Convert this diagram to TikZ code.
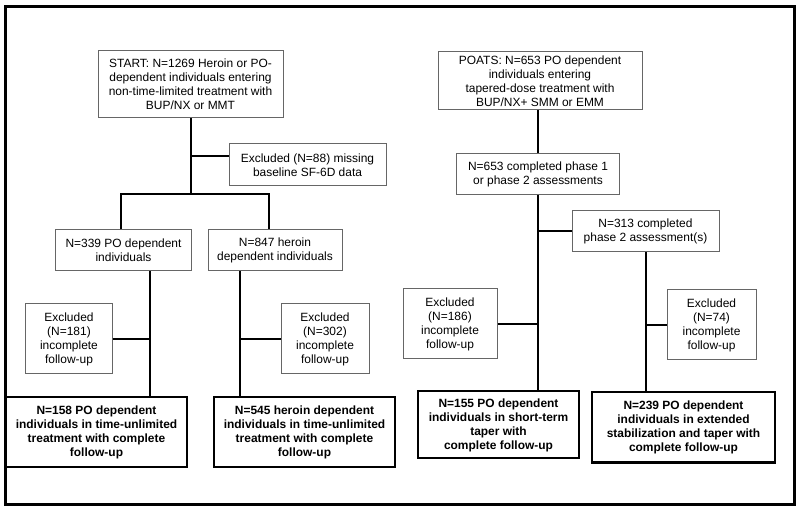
\documentclass[tikz,border=0pt]{standalone}
\usepackage{fontspec}
\setmainfont{Liberation Sans}
\usetikzlibrary{positioning}

\begin{document}
\begin{tikzpicture}[
    x=1bp, y=1bp,
    font=\fontsize{12}{14}\selectfont,
    box/.style={rectangle, draw=black!60, line width=1bp, align=center, inner sep=2bp},
    result/.style={rectangle, draw=black, line width=2bp, align=center, inner sep=2bp, font=\fontsize{12}{14}\selectfont\bfseries},
    line/.style={line width=2bp}
]
\useasboundingbox (0,0) rectangle (800,512);
\draw[line width=3bp] (5.5,505.5) rectangle (794,7);

% ============ BRAS START ============
\node[box, minimum width=185bp, minimum height=67bp] (start) at (190.5,427.5) {START: N=1269 Heroin or PO-\\dependent individuals entering\\non-time-limited treatment with\\BUP/NX or MMT};
\node[box, minimum width=157bp, minimum height=42bp, below=25bp of start, xshift=117bp] (excl88) {Excluded (N=88) missing\\baseline SF-6D data};

\node[box, minimum width=135bp, minimum height=41bp, below=111bp of start, xshift=-67bp] (po339) {N=339 PO dependent\\individuals};
\node[box, minimum width=134bp, minimum height=41bp, right=16bp of po339] (her847) {N=847 heroin\\dependent individuals};

\node[box, minimum width=86bp, minimum height=70bp, below=32bp of po339, xshift=-54.5bp] (excl181) {Excluded\\(N=181)\\incomplete\\follow-up};
\node[box, minimum width=88bp, minimum height=70bp, below=32bp of her847, xshift=50bp] (excl302) {Excluded\\(N=302)\\incomplete\\follow-up};

\node[result, minimum width=181bp, minimum height=69bp, below=125bp of po339, xshift=-27bp] (res158) {N=158 PO dependent\\individuals in time-unlimited\\treatment with complete\\follow-up};
\node[result, minimum width=181bp, minimum height=69bp, right=25bp of res158] (res545) {N=545 heroin dependent\\individuals in time-unlimited\\treatment with complete\\follow-up};

% ============ BRAS POATS ============
\node[box, minimum width=204bp, minimum height=58bp] (poats) at (540,431) {POATS: N=653 PO dependent\\individuals entering\\tapered-dose treatment with\\BUP/NX+ SMM or EMM};
\node[box, minimum width=163bp, minimum height=41bp, below=43bp of poats, xshift=-2bp] (comp653) {N=653 completed phase 1\\or phase 2 assessments};
\node[box, minimum width=147bp, minimum height=41bp, below=15bp of comp653, xshift=107.5bp] (comp313) {N=313 completed\\phase 2 assessment(s)};

\node[box, minimum width=94bp, minimum height=70bp, below=93bp of comp653, xshift=-88bp] (excl186) {Excluded\\(N=186)\\incomplete\\follow-up};
\node[box, minimum width=89bp, minimum height=70bp, below=37bp of comp313, xshift=66bp] (excl74) {Excluded\\(N=74)\\incomplete\\follow-up};

\node[result, minimum width=161bp, minimum height=67bp, below=195bp of comp653, xshift=-39.5bp] (res155) {N=155 PO dependent\\individuals in short-term\\taper with\\complete follow-up};
\node[result, minimum width=183bp, minimum height=70bp, below=139bp of comp313, xshift=38bp] (res239) {N=239 PO dependent\\individuals in extended\\stabilization and taper with\\complete follow-up};

% ============ CONNEXIONS ============
% START -> split
\draw[line] (start.south) -- ++(0,-76) coordinate (split);
\draw[line] ([yshift=9bp]excl88.west) -- ([yshift=9bp]excl88.west -| start.south);
\draw[line] ([xshift=-2.5bp]po339.north) |- (split) -| ([xshift=-6bp]her847.north);

% PO / heroin -> results
\draw[line] ([xshift=26.5bp]po339.south) coordinate (po-out) -- (po-out |- res158.north);
\draw[line] (excl181.east) -- (excl181.east -| po-out);
\draw[line] ([xshift=-35bp]her847.south) coordinate (her-out) -- (her-out |- res545.north);
\draw[line] (excl302.west) -- (excl302.west -| her-out);

% POATS -> phases
\draw[line] (comp653.north |- poats.south) -- (comp653.north);
\draw[line] (comp653.south) -- (comp653.south |- res155.north);
\draw[line] (comp313.west) -- (comp313.west -| comp653.south);
\draw[line] (excl186.east) -- (excl186.east -| comp653.south);
\draw[line] (comp313.south) -- (comp313.south |- res239.north);
\draw[line] (excl74.west) -- (excl74.west -| comp313.south);

\end{tikzpicture}
\end{document}
